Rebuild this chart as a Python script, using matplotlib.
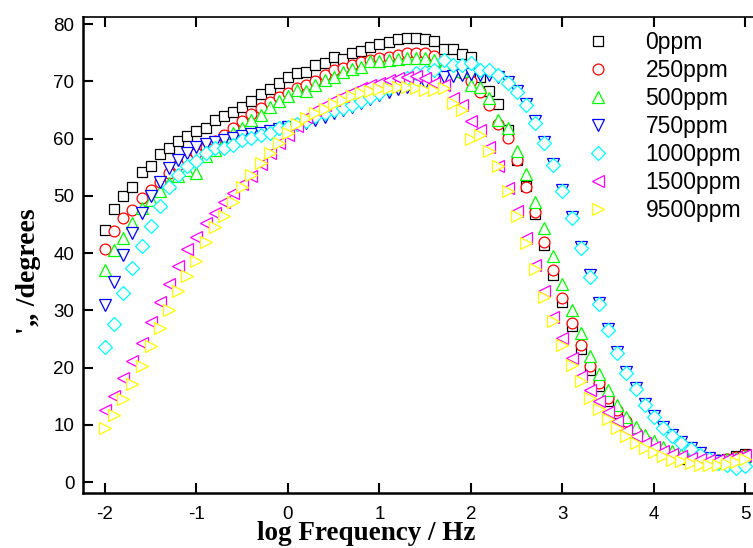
import numpy as np
import matplotlib
matplotlib.use('Agg')
import matplotlib.pyplot as plt

plt.rcParams['axes.unicode_minus'] = False

# log frequency axis: -2 .. 5 in steps of 0.1 decade (71 points)
log_freq = np.round(np.arange(-2.0, 5.0001, 0.1), 1)

labels = ['0ppm', '250ppm', '500ppm', '750ppm', '1000ppm', '1500ppm', '9500ppm']

# -phase angle (degrees)
phase_0 = [44.1, 47.7, 50.0, 51.6, 54.1, 55.3, 57.3, 58.4, 59.6, 60.5,
           61.4, 61.8, 63.2, 63.9, 64.7, 65.5, 66.5, 67.8, 68.6, 69.7,
           70.7, 71.4, 71.7, 72.9, 73.2, 74.2, 73.9, 74.9, 75.4, 76.1,
           76.6, 76.8, 77.4, 77.5, 77.5, 77.4, 77.1, 75.6, 75.7, 74.8,
           74.3, 70.8, 68.3, 66.0, 61.5, 56.3, 51.7, 46.9, 41.5, 36.2,
           31.5, 27.2, 23.3, 19.6, 16.7, 14.1, 12.0, 10.0, 8.2, 6.8,
           5.8, 5.1, 4.5, 4.1, 3.9, 3.7, 3.7, 3.9, 4.1, 4.5, 4.9]
phase_250 = [40.8, 43.9, 46.1, 47.6, 49.6, 51.1, 52.5, 54.0, 55.4, 56.5,
             57.5, 58.6, 59.6, 60.6, 61.8, 63.0, 64.3, 65.4, 66.4, 67.2,
             68.0, 68.8, 69.3, 70.0, 71.1, 72.0, 72.4, 72.9, 73.4, 73.8,
             74.1, 74.3, 74.6, 74.9, 74.9, 74.9, 74.5, 72.1, 72.0, 71.4,
             70.0, 68.2, 65.9, 62.5, 60.1, 56.3, 51.6, 47.2, 41.9, 37.0,
             32.1, 27.8, 23.9, 20.3, 17.3, 14.7, 12.6, 10.6, 8.8, 7.4,
             6.2, 5.4, 4.8, 4.3, 4.0, 3.8, 3.7, 3.8, 4.0, 4.3, 4.7]
phase_500 = [37.0, 40.5, 42.6, 45.3, 47.9, 49.3, 50.8, 52.2, 53.4, 54.6,
             54.0, 56.9, 58.0, 59.5, 60.9, 61.8, 63.3, 64.2, 65.5, 66.5,
             67.4, 68.5, 68.3, 69.4, 70.3, 70.8, 71.7, 72.1, 72.6, 73.5,
             73.5, 73.8, 73.9, 74.1, 74.1, 74.1, 73.7, 72.8, 72.4, 71.8,
             69.4, 69.1, 67.1, 63.3, 61.8, 57.8, 53.8, 49.0, 44.4, 39.5,
             34.6, 30.1, 26.0, 22.1, 18.9, 16.0, 13.5, 11.4, 9.7, 8.3,
             7.1, 6.2, 5.5, 4.9, 4.5, 4.2, 4.0, 3.9, 4.0, 4.2, 4.5]
phase_750 = [31.0, 35.0, 39.6, 43.5, 47.0, 49.9, 52.4, 54.9, 56.3, 57.5,
             58.6, 59.1, 59.5, 59.8, 60.2, 60.4, 60.8, 61.0, 61.3, 61.6,
             62.0, 62.4, 62.8, 63.3, 63.8, 64.4, 65.0, 65.5, 66.2, 66.9,
             67.6, 68.2, 68.6, 69.0, 69.4, 69.8, 70.3, 70.7, 71.0, 71.2,
             71.3, 71.2, 71.1, 70.8, 69.9, 68.4, 66.1, 63.0, 59.5, 55.6,
             51.1, 46.3, 41.1, 36.1, 31.3, 26.8, 22.7, 19.3, 16.4, 13.7,
             11.6, 9.7, 8.2, 7.0, 5.9, 5.0, 4.2, 3.6, 3.2, 2.7, 3.0]
phase_1000 = [23.6, 27.6, 33.0, 37.4, 41.2, 44.8, 48.3, 51.6, 53.7, 55.2,
              56.1, 57.5, 58.4, 58.3, 58.9, 59.8, 60.1, 60.7, 61.0, 61.8,
              62.1, 62.6, 63.0, 63.9, 64.4, 65.0, 65.4, 65.9, 66.5, 67.2,
              68.0, 68.8, 69.8, 70.6, 71.4, 71.6, 72.0, 73.8, 72.9, 72.9,
              73.2, 72.0, 72.0, 71.1, 69.7, 68.2, 65.9, 62.8, 59.3, 55.4,
              50.9, 46.1, 40.9, 35.9, 31.1, 26.6, 22.5, 19.1, 16.2, 13.5,
              11.4, 9.5, 8.0, 6.8, 5.7, 4.8, 4.0, 3.4, 3.0, 2.5, 2.8]
phase_1500 = [12.5, 15.1, 18.2, 21.2, 24.3, 27.9, 31.4, 34.6, 37.8, 40.7,
              42.9, 45.3, 47.0, 49.0, 50.5, 52.1, 53.4, 55.6, 57.5, 59.2,
              60.6, 62.2, 63.8, 65.0, 65.9, 66.8, 67.5, 68.2, 68.8, 69.3,
              69.8, 70.2, 70.6, 70.8, 70.9, 70.6, 69.7, 69.4, 67.1, 65.9,
              63.0, 61.5, 58.5, 55.3, 51.4, 47.3, 42.6, 38.0, 33.3, 28.9,
              25.2, 21.6, 18.6, 16.1, 14.1, 12.3, 10.6, 9.1, 8.0, 6.9,
              6.1, 5.5, 4.9, 4.6, 4.2, 4.0, 3.8, 3.8, 4.0, 4.3, 4.7]
phase_9500 = [9.5, 11.8, 14.5, 17.2, 20.3, 23.7, 26.9, 30.1, 33.3, 36.0,
              38.7, 42.0, 44.6, 46.5, 49.0, 51.6, 53.6, 55.7, 57.5, 59.2,
              60.9, 62.5, 63.6, 64.4, 65.2, 66.0, 66.8, 67.4, 67.9, 68.3,
              68.7, 68.8, 69.1, 69.1, 68.8, 68.5, 68.5, 68.8, 66.2, 65.0,
              59.9, 60.6, 57.8, 55.2, 50.9, 46.4, 41.7, 37.2, 32.4, 28.1,
              24.0, 20.5, 17.6, 14.7, 12.7, 11.0, 9.4, 8.1, 6.8, 5.9,
              5.2, 4.5, 3.9, 3.6, 3.3, 3.0, 3.0, 3.0, 3.2, 3.5, 4.0]

series = [phase_0, phase_250, phase_500, phase_750, phase_1000, phase_1500, phase_9500]
colors = ['black', '#ff0000', '#00ff00', '#0000ff', '#00ffff', '#ff00ff', '#ffff00']
markers = ['s', 'o', '^', 'v', 'D', '<', '>']
sizes = [7, 7.8, 9, 8.5, 7, 9, 9]

fig = plt.figure(figsize=(7.53, 5.48), dpi=100)
ax = fig.add_axes([0.1098, 0.0998, 0.8923, 0.8686])

# markers are open but white-filled, so later series hide earlier ones
for y, c, m, ms, lab in zip(series, colors, markers, sizes, labels):
    ax.plot(log_freq, y, linestyle='none', marker=m, markersize=ms,
            markerfacecolor='white', markeredgecolor=c, markeredgewidth=0.9,
            label=lab)

ax.set_xlim(-2.244, 5.10)
ax.set_ylim(-1.97, 81.2)
ax.set_xticks(range(-2, 6))
ax.set_yticks(range(0, 81, 10))

for s in ['left', 'bottom']:
    ax.spines[s].set_linewidth(1.8)
ax.spines['top'].set_linewidth(1.2)
ax.spines['right'].set_visible(False)
ax.tick_params(direction='in', length=7, width=1.5, pad=6,
               labelsize=13.5, top=True)
ax.tick_params(axis='x', pad=9)
for t in ax.get_xticklabels() + ax.get_yticklabels():
    t.set_fontfamily('Liberation Sans')

fig.text(0.486, 0.014, 'log Frequency / Hz', fontfamily='Liberation Serif',
         fontweight='bold', fontsize=19.5, ha='center', va='baseline')
fig.text(0.038, 0.505, "'\u201e /degrees", fontfamily='Liberation Serif',
         fontweight='bold', fontsize=20, ha='center', va='center', rotation=90)

leg = ax.legend(loc='upper left', bbox_to_anchor=(587 / 753, 1 - 31 / 548),
                bbox_transform=fig.transFigure, frameon=False,
                prop={'family': 'Liberation Sans', 'size': 16.5},
                handlelength=1.0, handletextpad=1.55, labelspacing=0.22,
                borderpad=0, borderaxespad=0)

fig.savefig('out.png', dpi=100)
